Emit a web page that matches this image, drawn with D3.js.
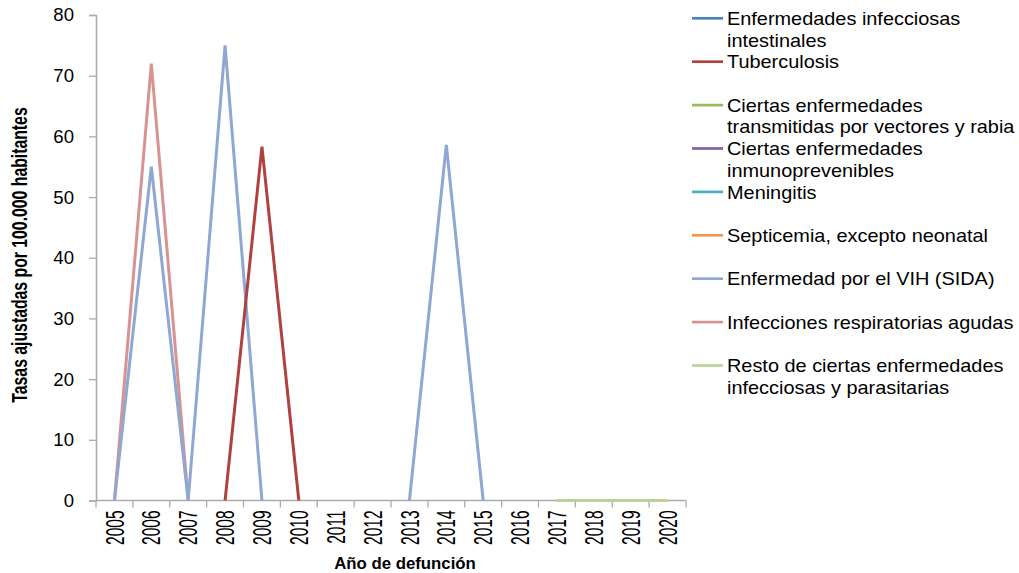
<!DOCTYPE html>
<html><head><meta charset="utf-8">
<script src="https://cdn.jsdelivr.net/npm/d3@7"></script>
<style>body{margin:0;background:#fff}svg{display:block}</style>
</head><body>
<svg id="chart" width="1019" height="573"></svg>
<script>
const years = ["2005","2006","2007","2008","2009","2010","2011","2012","2013","2014","2015","2016","2017","2018","2019","2020"];
const yTicks = [0,10,20,30,40,50,60,70,80];
const seriesNames = [
  ["Enfermedades infecciosas","intestinales"],
  ["Tuberculosis"],
  ["Ciertas enfermedades","transmitidas por vectores y rabia"],
  ["Ciertas enfermedades","inmunoprevenibles"],
  ["Meningitis"],
  ["Septicemia, excepto neonatal"],
  ["Enfermedad por el VIH (SIDA)"],
  ["Infecciones respiratorias agudas"],
  ["Resto de ciertas enfermedades","infecciosas y parasitarias"]
];
const seriesColors = ["#4F81BD","#B0413E","#9BBB59","#8064A2","#4BACC6","#F79646","#8EA8D3","#D69392","#BCD196"];
const N = null;
const intestinales = [N,N,N,N,N,N,N,N,N,N,N,N,N,N,N,N];
const tuberculosis = [N,N,N,0,58.3,0,N,N,N,N,N,N,N,N,N,N];
const vectores =     [N,N,N,N,N,N,N,N,N,N,N,N,N,N,N,N];
const inmunoprev =   [N,N,N,N,N,N,N,N,N,N,N,N,N,N,N,N];
const meningitis =   [N,N,N,N,N,N,N,N,N,N,N,N,N,N,N,N];
const septicemia =   [N,N,N,N,N,N,N,N,N,N,N,N,N,N,N,N];
const vih =          [0,55,0,75,0,N,N,N,0,58.6,0,N,N,N,N,N];
const respiratorias =[0,72,0,N,N,N,N,N,N,N,N,N,N,N,N,N];
const resto =        [N,N,N,N,N,N,N,N,N,N,N,N,0,0,0,0];
const seriesValues = [intestinales,tuberculosis,vectores,inmunoprev,meningitis,septicemia,vih,respiratorias,resto];
// drawing order (back to front)
const drawOrder = [0,2,3,4,5,8,7,6,1];

(function(){
const svg = d3.select("#chart");
const mL = 96, mR = 686, mT = 15, mB = 500.5;
const x = d3.scaleBand().domain(years).range([mL, mR]);
const y = d3.scaleLinear().domain([0,80]).range([mB, mT]);
const font = "'Liberation Sans', Arial, sans-serif";
const axisGray = "#ABABAB";

// Y axis
const ya = svg.append("g").attr("transform", `translate(${mL},0)`)
  .call(d3.axisLeft(y).tickValues(yTicks).tickSize(7).tickPadding(15));
ya.select(".domain").attr("stroke", axisGray).attr("stroke-width", 1.6);
ya.selectAll(".tick line").attr("stroke", axisGray).attr("stroke-width", 1.3);
ya.selectAll(".tick text").attr("font-family", font).attr("font-size", 18.6).attr("fill", "#000");

// X axis (ticks between categories)
const xa = svg.append("g").attr("transform", `translate(0,${mB})`);
xa.append("line").attr("x1", mL).attr("x2", mR).attr("y1", 0).attr("y2", 0)
  .attr("stroke", axisGray).attr("stroke-width", 1.6);
const bounds = years.map(d => x(d)).concat([mR]);
xa.selectAll("line.tk").data(bounds).enter().append("line").attr("class","tk")
  .attr("x1", d => d).attr("x2", d => d).attr("y1", 0).attr("y2", 7)
  .attr("stroke", axisGray).attr("stroke-width", 1.3);
const yrFont = 15.5, yrStretch = 1.65;
const yrOff = 0.716 * yrFont * yrStretch / 2;
xa.selectAll("text.lbl").data(years).enter().append("text").attr("class","lbl")
  .attr("transform", d => `translate(${x(d) + x.bandwidth()/2 + yrOff},10) rotate(-90) scale(1,${yrStretch})`)
  .attr("text-anchor", "end").attr("font-family", font).attr("font-size", yrFont)
  .text(d => d);

// Lines
const line = d3.line()
  .defined(d => d.v !== null)
  .x(d => x(d.year) + x.bandwidth()/2)
  .y(d => y(d.v));
drawOrder.forEach(i => {
  const data = years.map((yr, j) => ({year: yr, v: seriesValues[i][j]}));
  svg.append("path").datum(data).attr("d", line)
    .attr("fill", "none").attr("stroke", seriesColors[i]).attr("stroke-width", 3)
    .attr("stroke-linejoin", "miter");
});

// Axis titles
svg.append("text").attr("x", 405).attr("y", 569).attr("text-anchor", "middle")
  .attr("font-family", font).attr("font-weight", "bold").attr("font-size", 16.8)
  .text("Año de defunción");
svg.append("text").attr("transform", "translate(27,255) rotate(-90) scale(1,1.35)").attr("text-anchor", "middle")
  .attr("font-family", font)
  .attr("font-weight", "bold").attr("font-size", 15.8)
  .text("Tasas ajustadas por 100.000 habitantes");

// Legend
const lg = svg.append("g");
seriesNames.forEach((lines, i) => {
  const y0 = 18.3 + i * 43.4;
  lg.append("line").attr("x1", 692).attr("x2", 723).attr("y1", y0).attr("y2", y0)
    .attr("stroke", seriesColors[i]).attr("stroke-width", 2.7);
  lines.forEach((t, k) => {
    lg.append("text").attr("transform", `translate(727,${y0 + 6.6 + k * 21.7}) scale(1.07,1)`)
      .attr("font-family", font).attr("font-size", 18.6).text(t);
  });
});
})();
</script>
</body></html>
